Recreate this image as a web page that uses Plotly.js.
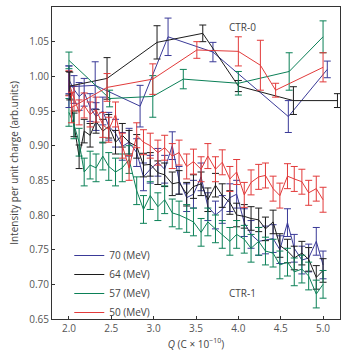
<!DOCTYPE html>
<html>
<head>
<meta charset="utf-8">
<script src="https://cdn.plot.ly/plotly-3.0.1.min.js"></script>
<style>html,body{margin:0;padding:0;background:#fff;}#chart{width:353px;height:358px;}</style>
</head>
<body>
<div id="chart"></div>
<script>
// ---- CTR-1 (dense) ----
var qCtr1 = [2.00, 2.06, 2.12, 2.18, 2.25, 2.32, 2.40, 2.47, 2.55, 2.63, 2.71, 2.80, 2.88, 2.96, 3.05, 3.13, 3.22, 3.30, 3.39, 3.47,
             3.56, 3.64, 3.73, 3.81, 3.90, 3.98, 4.07, 4.15, 4.24, 4.32, 4.41, 4.49, 4.58, 4.66, 4.75, 4.83, 4.92, 5.00];
var ctr1_70 = [0.995, 0.981, 0.971, 0.977, 0.955, 0.942, 0.950, 0.928, 0.918, 0.899, 0.905, 0.890, 0.855, 0.866, 0.876, 0.866, 0.900, 0.850, 0.825, 0.830,
               0.855, 0.812, 0.800, 0.808, 0.825, 0.830, 0.789, 0.772, 0.762, 0.764, 0.766, 0.750, 0.789, 0.752, 0.735, 0.738, 0.762, 0.728];
var ctr1_64 = [0.990, 0.930, 0.884, 0.921, 0.915, 0.935, 0.921, 0.928, 0.905, 0.915, 0.905, 0.899, 0.872, 0.873, 0.861, 0.858, 0.845, 0.847, 0.830, 0.841,
               0.845, 0.822, 0.843, 0.828, 0.818, 0.800, 0.798, 0.795, 0.793, 0.780, 0.790, 0.756, 0.748, 0.738, 0.745, 0.736, 0.710, 0.720];
var ctr1_57 = [0.948, 0.930, 0.905, 0.862, 0.872, 0.868, 0.885, 0.870, 0.862, 0.868, 0.880, 0.835, 0.808, 0.828, 0.812, 0.822, 0.803, 0.800, 0.795, 0.790,
               0.775, 0.790, 0.780, 0.772, 0.762, 0.772, 0.765, 0.752, 0.762, 0.748, 0.745, 0.728, 0.732, 0.718, 0.722, 0.712, 0.686, 0.700];
var ctr1_50 = [0.990, 0.968, 0.948, 0.958, 0.945, 0.952, 0.930, 0.923, 0.945, 0.900, 0.868, 0.915, 0.905, 0.900, 0.890, 0.897, 0.885, 0.890, 0.870, 0.877,
               0.866, 0.885, 0.866, 0.876, 0.852, 0.862, 0.829, 0.847, 0.855, 0.857, 0.838, 0.828, 0.856, 0.852, 0.848, 0.832, 0.838, 0.822];
var errCtr1 = {e70: 0.020, e64: 0.017, e57: 0.020, e50: 0.018};

// ---- CTR-0 (sparse) ----
var q0_70 = [2.00, 2.31, 2.84, 3.17, 3.70, 4.59, 5.05];
var ctr0_70 = [0.985, 0.987, 0.957, 1.057, 1.035, 0.942, 1.010];
var err0_70 = [0.030, 0.034, 0.030, 0.027, 0.014, 0.023, 0.012];

var q0_64 = [2.01, 2.45, 3.04, 3.58, 4.00, 4.65, 5.17];
var ctr0_64 = [0.986, 0.997, 1.049, 1.062, 0.986, 0.965, 0.965];
var err0_64 = [0.020, 0.030, 0.024, 0.012, 0.008, 0.020, 0.010];

var q0_57 = [2.00, 2.48, 2.99, 3.35, 4.00, 4.60, 5.00];
var ctr0_57 = [1.023, 0.968, 0.971, 0.996, 0.990, 1.007, 1.057];
var err0_57 = [0.012, 0.012, 0.030, 0.014, 0.017, 0.027, 0.023];

var q0_50 = [2.03, 2.45, 2.99, 3.51, 4.00, 4.26, 4.44, 5.00];
var ctr0_50 = [0.955, 0.984, 0.996, 1.038, 1.036, 1.016, 0.980, 1.013];
var err0_50 = [0.022, 0.020, 0.022, 0.012, 0.021, 0.036, 0.010, 0.021];

var labels = ['70 (MeV)', '64 (MeV)', '57 (MeV)', '50 (MeV)'];
var colors = ['#3a3a98', '#1c1c1c', '#0b8057', '#e23a3a'];

var xTickVals = [2.0, 2.5, 3.0, 3.5, 4.0, 4.5, 5.0];
var yTickVals = [0.65, 0.70, 0.75, 0.80, 0.85, 0.90, 0.95, 1.00, 1.05, 1.10];

function tr(x, y, err, i, show, isArr) {
  var ey = isArr ? {type: 'data', array: err, visible: true, color: colors[i], thickness: 1, width: 3.5}
                 : {type: 'constant', value: err, visible: true, color: colors[i], thickness: 1, width: 3.5};
  return {
    x: x, y: y, type: 'scatter', mode: 'lines', name: labels[i],
    showlegend: show,
    line: {color: colors[i], width: 1},
    error_y: ey, hoverinfo: 'x+y'
  };
}

var data = [
  tr(qCtr1, ctr1_70, errCtr1.e70, 0, true, false),
  tr(qCtr1, ctr1_64, errCtr1.e64, 1, true, false),
  tr(qCtr1, ctr1_57, errCtr1.e57, 2, true, false),
  tr(qCtr1, ctr1_50, errCtr1.e50, 3, true, false),
  tr(q0_70, ctr0_70, err0_70, 0, false, true),
  tr(q0_64, ctr0_64, err0_64, 1, false, true),
  tr(q0_57, ctr0_57, err0_57, 2, false, true),
  tr(q0_50, ctr0_50, err0_50, 3, false, true)
];

var tickFont = {family: 'Open Sans, sans-serif', size: 10, color: '#555'};
var layout = {
  width: 353, height: 358,
  margin: {l: 52, r: 13, t: 7, b: 39},
  paper_bgcolor: '#fff', plot_bgcolor: '#fff',
  font: {family: 'Open Sans, sans-serif', size: 10, color: '#444'},
  showlegend: true,
  legend: {x: 0.06, y: 0.25, xanchor: 'left', yanchor: 'top', bgcolor: 'rgba(0,0,0,0)',
           tracegroupgap: 0, traceorder: 'normal',
           font: {family: 'Open Sans, sans-serif', size: 10, color: '#444'}, itemwidth: 30},
  xaxis: {
    range: [1.8, 5.2], tickvals: xTickVals, tickformat: '.1f',
    ticks: 'inside', ticklen: 3, tickcolor: '#333',
    showline: true, linecolor: '#333', linewidth: 1, mirror: true,
    showgrid: false, zeroline: false, tickfont: tickFont,
    title: {text: '<i>Q</i> (C × 10<sup>−10</sup>)', font: {family: 'Open Sans, sans-serif', size: 10, color: '#444'}, standoff: 6}
  },
  yaxis: {
    range: [0.65, 1.10], tickvals: yTickVals, tickformat: '.2f',
    ticks: 'inside', ticklen: 3, tickcolor: '#333',
    showline: true, linecolor: '#333', linewidth: 1, mirror: true,
    showgrid: false, zeroline: false, tickfont: tickFont,
    title: {text: 'Intensity per unit charge (arb.units)', font: {family: 'Open Sans, sans-serif', size: 10, color: '#444'}, standoff: 8}
  },
  annotations: [
    {x: 4.05, y: 1.071, xref: 'x', yref: 'y', text: 'CTR-0', showarrow: false, font: {family: 'Open Sans, sans-serif', size: 10, color: '#444'}},
    {x: 4.05, y: 0.688, xref: 'x', yref: 'y', text: 'CTR-1', showarrow: false, font: {family: 'Open Sans, sans-serif', size: 10, color: '#444'}}
  ]
};

Plotly.newPlot('chart', data, layout, {displayModeBar: false, staticPlot: true});
</script>
</body>
</html>
